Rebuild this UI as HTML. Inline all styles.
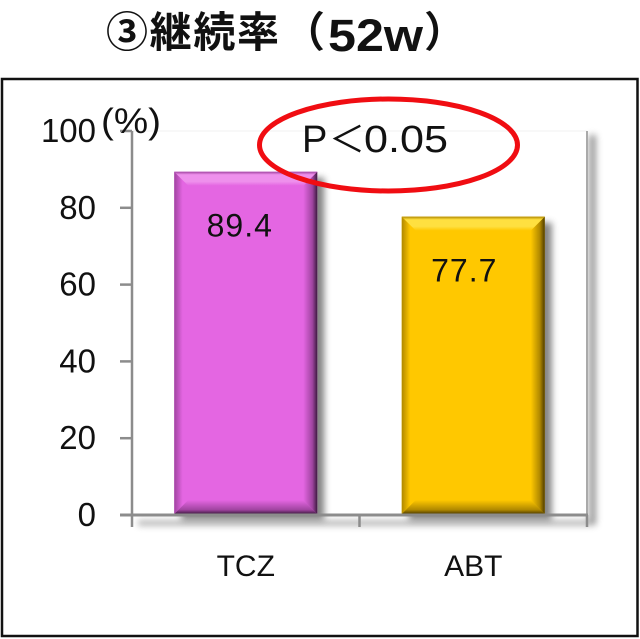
<!DOCTYPE html>
<html><head><meta charset="utf-8">
<style>
html,body{margin:0;padding:0;background:#fff;width:640px;height:639px;overflow:hidden}
svg{display:block}
text{font-family:"Liberation Sans","Noto Sans CJK JP",sans-serif;fill:#111}
</style></head>
<body>
<svg id="chart" width="640" height="639" viewBox="0 0 640 639" xmlns="http://www.w3.org/2000/svg">
<defs id="defs">
<filter id="blur4" x="-20%" y="-20%" width="140%" height="140%"><feGaussianBlur stdDeviation="3.5"/></filter>
</defs>
<g font-weight="700" fill="#111">
<text x="106" y="47" font-size="42" textLength="173" lengthAdjust="spacing">③継続率</text>
<text x="283" y="47" font-size="42">（</text>
<text x="328" y="51" font-size="45" textLength="95" lengthAdjust="spacingAndGlyphs">52w</text>
<text x="424" y="47" font-size="42">）</text>
</g>
<rect x="2" y="79" width="635.5" height="557" fill="#fff" stroke="#111" stroke-width="2.5"/>
<g id="plot"></g>
<text x="101" y="133" font-size="35" textLength="60" lengthAdjust="spacingAndGlyphs">(%)</text>
<ellipse cx="388.5" cy="145" rx="129" ry="46" fill="none" stroke="#f00d12" stroke-width="5"/>
<g>
<text x="302" y="152" font-size="38">P</text>
<text x="329" y="152" font-size="36">＜</text>
<text x="364" y="152" font-size="38" textLength="84" lengthAdjust="spacingAndGlyphs">0.05</text>
</g>
</svg>
<script>
const categories = ['TCZ', 'ABT'];
const values = [89.4, 77.7];
const valueLabels = ['89.4', '77.7'];
const yTicks = [0, 20, 40, 60, 80, 100];
const barColors = [
  {base:'#e466e2', light:'#ee90ec', mid:'#a044a0', dark:'#3e1a40'},
  {base:'#ffc800', light:'#ffe040', mid:'#b08800', dark:'#4e3c00'}
];
const plotLeft = 132, plotRight = 587, plotTop = 131, plotBottom = 515;
const barFraction = 143 / 227.5;
const bevel = 14;
const NS = 'http://www.w3.org/2000/svg';
const plot = document.getElementById('plot');
const defs = document.getElementById('defs');
function yScale(v){ return plotBottom - (v / 100) * (plotBottom - plotTop); }
function xBand(i){ return (plotRight - plotLeft) / categories.length * i + plotLeft; }
function bandWidth(){ return (plotRight - plotLeft) / categories.length; }
function mk(tag, attrs, parent){
  const el = document.createElementNS(NS, tag);
  for (const k in attrs) el.setAttribute(k, attrs[k]);
  (parent || plot).appendChild(el);
  return el;
}
function grad(id, dir, stops){
  const v = {top:[0,0,0,1], bottom:[0,1,0,0], left:[0,0,1,0], right:[1,0,0,0]}[dir];
  const g = mk('linearGradient', {id:id, x1:v[0], y1:v[1], x2:v[2], y2:v[3]}, defs);
  stops.forEach(s => mk('stop', {offset:s[0], 'stop-color':s[1]}, g));
}
const plotShadow = mk('path', {d:`M${plotRight+2} ${plotTop+4}V${plotBottom+6}H${plotLeft+6}V${plotBottom+10}H${plotRight+9}V${plotTop+4}Z`, fill:'#777', filter:'url(#blur4)', opacity:.75});


const plotBg = mk('rect', {x:plotLeft, y:plotTop, width:plotRight-plotLeft, height:plotBottom-plotTop, fill:'#fff'});


const topEdge = mk('line', {x1:plotLeft, x2:plotRight, y1:plotTop, y2:plotTop, stroke:'#f2f2f2', 'stroke-width':1});


const rightEdge = mk('line', {x1:plotRight, x2:plotRight, y1:plotTop, y2:plotBottom, stroke:'#aaa', 'stroke-width':2});



categories.forEach((c, i) => {
  const w = bandWidth() * barFraction;
  const x = xBand(i) + (bandWidth() - w) / 2;
  const y = yScale(values[i]);
  const b = plotBottom - 1;
  const r = x + w;
  const col = barColors[i];
  grad('t'+i, 'top', [[0, col.mid], [0.22, col.light], [0.7, col.light], [1, col.base]]);
  grad('l'+i, 'left', [[0, col.mid], [0.6, col.base], [1, col.base]]);
  grad('r'+i, 'right', [[0, col.dark], [0.35, col.mid], [1, col.base]]);
  grad('b'+i, 'bottom', [[0, col.dark], [0.3, col.mid], [1, col.base]]);
  const g = mk('g', {});
  
  
  mk('rect', {x:x+7, y:y+6, width:w, height:b-y, fill:'#666', filter:'url(#blur4)', opacity:.8}, g);
  mk('rect', {x:x, y:y, width:w, height:b-y, fill:col.base}, g);
  mk('polygon', {points:`${x},${y} ${x+bevel},${y+bevel} ${x+bevel},${b-bevel} ${x},${b}`, fill:`url(#l${i})`}, g);
  mk('polygon', {points:`${r},${y} ${r-bevel},${y+bevel} ${r-bevel},${b-bevel} ${r},${b}`, fill:`url(#r${i})`}, g);
  mk('polygon', {points:`${x},${b} ${x+bevel},${b-bevel} ${r-bevel},${b-bevel} ${r},${b}`, fill:`url(#b${i})`}, g);
  mk('polygon', {points:`${x},${y} ${r},${y} ${r-bevel},${y+bevel} ${x+bevel},${y+bevel}`, fill:`url(#t${i})`}, g);
});

const yAxis = mk('line', {x1:plotLeft, x2:plotLeft, y1:plotTop, y2:plotBottom+12, stroke:'#8c8c8c', 'stroke-width':2.5});


const xAxis = mk('line', {x1:plotLeft-12, x2:plotRight+1, y1:plotBottom, y2:plotBottom, stroke:'#8c8c8c', 'stroke-width':3});



yTicks.forEach(t => {
  const tick = mk('line', {x1:plotLeft-12, x2:plotLeft, y1:yScale(t), y2:yScale(t), stroke:'#8c8c8c', 'stroke-width':2.5});
  
  
  const lab = mk('text', {x:96, y:yScale(t)+11, 'text-anchor':'end', 'font-size':33});
  
  
  lab.textContent = t;
});

categories.forEach((c, i) => {
  const tick = mk('line', {x1:xBand(i+1), x2:xBand(i+1), y1:plotBottom, y2:plotBottom+12, stroke:'#8c8c8c', 'stroke-width':2.5});
  
  
  const cx = xBand(i) + bandWidth() / 2;
  const lab = mk('text', {x:cx, y:576, 'text-anchor':'middle', 'font-size':30});
  
  
  lab.textContent = c;
  const val = mk('text', {x:cx-6-3*i, y:yScale(values[i])+65, 'text-anchor':'middle', 'font-size':32, 'letter-spacing':1});
  
  
  val.textContent = valueLabels[i];
});
</script>
</body></html>
